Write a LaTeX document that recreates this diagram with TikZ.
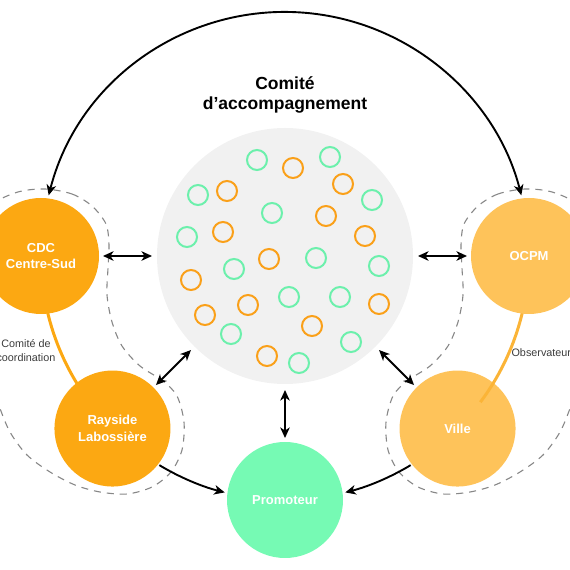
\documentclass[tikz,border=0pt]{standalone}
\usepackage{fontspec}
\setmainfont{Liberation Sans}
\usetikzlibrary{arrows.meta,calc}
\definecolor{orA}{RGB}{252,168,18}
\definecolor{orB}{RGB}{254,195,90}
\definecolor{orLine}{RGB}{251,180,55}
\definecolor{mint}{RGB}{118,250,180}
\definecolor{ringG}{RGB}{108,240,172}
\definecolor{ringO}{RGB}{250,160,25}
\definecolor{pale}{RGB}{241,241,241}
\definecolor{dashgray}{RGB}{135,135,135}
\definecolor{labelgray}{RGB}{60,60,60}
\begin{document}
\begin{tikzpicture}[x=1pt,y=1pt,
  actor/.style={circle, minimum size=116pt, inner sep=0pt, outer sep=0pt, text=white,
    font=\bfseries\fontsize{13}{16.5}\selectfont, align=center},
  bigpale/.style={circle, fill=pale, minimum size=256pt, inner sep=0pt, outer sep=0pt},
  ringg/.style={circle, draw=ringG, line width=2pt, minimum size=20pt, inner sep=0pt},
  ringo/.style={circle, draw=ringO, line width=2pt, minimum size=20pt, inner sep=0pt},
  blob/.style={draw=dashgray, line width=1.1pt, dash pattern=on 7pt off 6pt},
  dbl/.style={{Stealth[length=10.5pt,width=9.5pt,inset=3pt]}-{Stealth[length=10.5pt,width=9.5pt,inset=3pt]}, line width=1.9pt},
  sgl/.style={-{Stealth[length=10.5pt,width=9.5pt,inset=3pt]}, line width=1.9pt},
  orarc/.style={line width=3pt},
  lbl/.style={font=\fontsize{10.8}{14}\selectfont, text=labelgray, align=center, inner sep=0pt},
  titre/.style={font=\bfseries\fontsize{17.5}{20}\selectfont, text=black, align=center, inner sep=0pt}
]
\useasboundingbox (0,0) rectangle (570,570);
\clip (0,0) rectangle (570,570);

% central committee
\node[bigpale] (gray) at (285,314) {};
\foreach \x/\y [count=\i] in {257/410,330/413,198/375,372/370,272/357,187/333,316/312,234/301,379/304,289/273,340/273,231/236,351/228,299/207}
  \node[ringg] (g\i) at (\x,\y) {};
\foreach \x/\y [count=\i] in {293/402,343/386,227/379,326/354,223/338,365/334,269/311,191/290,248/265,379/266,205/255,312/244,267/214}
  \node[ringo] (o\i) at (\x,\y) {};

% dashed groupings
\draw[blob] plot[smooth cycle] coordinates {(45,381) (72,376) (92,364) (106,346) (109,325) (108,302) (107,275) (112,248) (122,224) (140,204) (163,189) (177,174) (184,148) (182,120) (171,98) (152,83) (127,76) (100,78) (75,85) (50,98) (27,115) (10,138) (-2,167) (-20,220) (-30,280) (-25,335) (-8,365) (18,378)};
\begin{scope}[xshift=570pt, xscale=-1]
\draw[blob] plot[smooth cycle] coordinates {(45,381) (72,376) (92,364) (106,346) (109,325) (108,302) (107,275) (112,248) (122,224) (140,204) (163,189) (177,174) (184,148) (182,120) (171,98) (152,83) (127,76) (100,78) (75,85) (50,98) (27,115) (10,138) (-2,167) (-20,220) (-30,280) (-25,335) (-8,365) (18,378)};
\end{scope}

% link CDC - Rayside
\coordinate (lkL) at ($(gray)+(180:244)$);
\draw[orarc, orA] (lkL) arc[start angle=180, end angle=225, radius=244];

\node[actor, fill=orA] (cdc) at ($(gray)+(180:244)$) {CDC\\Centre-Sud};
\node[actor, fill=orA] (rayside) at ($(gray)+(225:244)$) {Rayside\\Labossière};
\node[actor, fill=orB] (ville) at ($(gray)+(315:244)$) {Ville};

% link OCPM - Ville
\coordinate (lkR) at ($(gray)+(0:244)$);
\draw[orarc, orLine] (lkR) arc[start angle=0, end angle=-36.8, radius=244];

\node[actor, fill=orB] (ocpm) at ($(gray)+(0:244)$) {OCPM};
\node[actor, fill=mint] (promoteur) at ($(gray)+(270:244)$) {Promoteur};

% arrows
\draw[dbl, shorten <=4pt, shorten >=5pt] (cdc) -- (gray);
\draw[dbl, shorten <=5pt, shorten >=4pt] (gray) -- (ocpm);
\draw[dbl, shorten <=5pt, shorten >=3.5pt] (gray) -- (rayside);
\draw[dbl, shorten <=5pt, shorten >=3.5pt] (gray) -- (ville);
\draw[dbl, shorten <=6pt, shorten >=4pt] (gray) -- (promoteur);

\coordinate (topL) at ($(gray)+(165.6:244)$);
\draw[dbl] (topL) arc[start angle=165.6, end angle=14.4, radius=244];

\coordinate (botL) at ($(gray)+(239:244)$);
\draw[sgl] (botL) arc[start angle=239, end angle=255.7, radius=244];
\coordinate (botR) at ($(gray)+(301:244)$);
\draw[sgl] (botR) arc[start angle=301, end angle=284.3, radius=244];

% labels
\node[titre] (title) at (285,475) {Comité\\d’accompagnement};
\node[lbl] (coordlbl) at (26,219) {Comité de\\coordination};
\node[lbl] (obslbl) at (544,217) {Observateurs};
\end{tikzpicture}
\end{document}
